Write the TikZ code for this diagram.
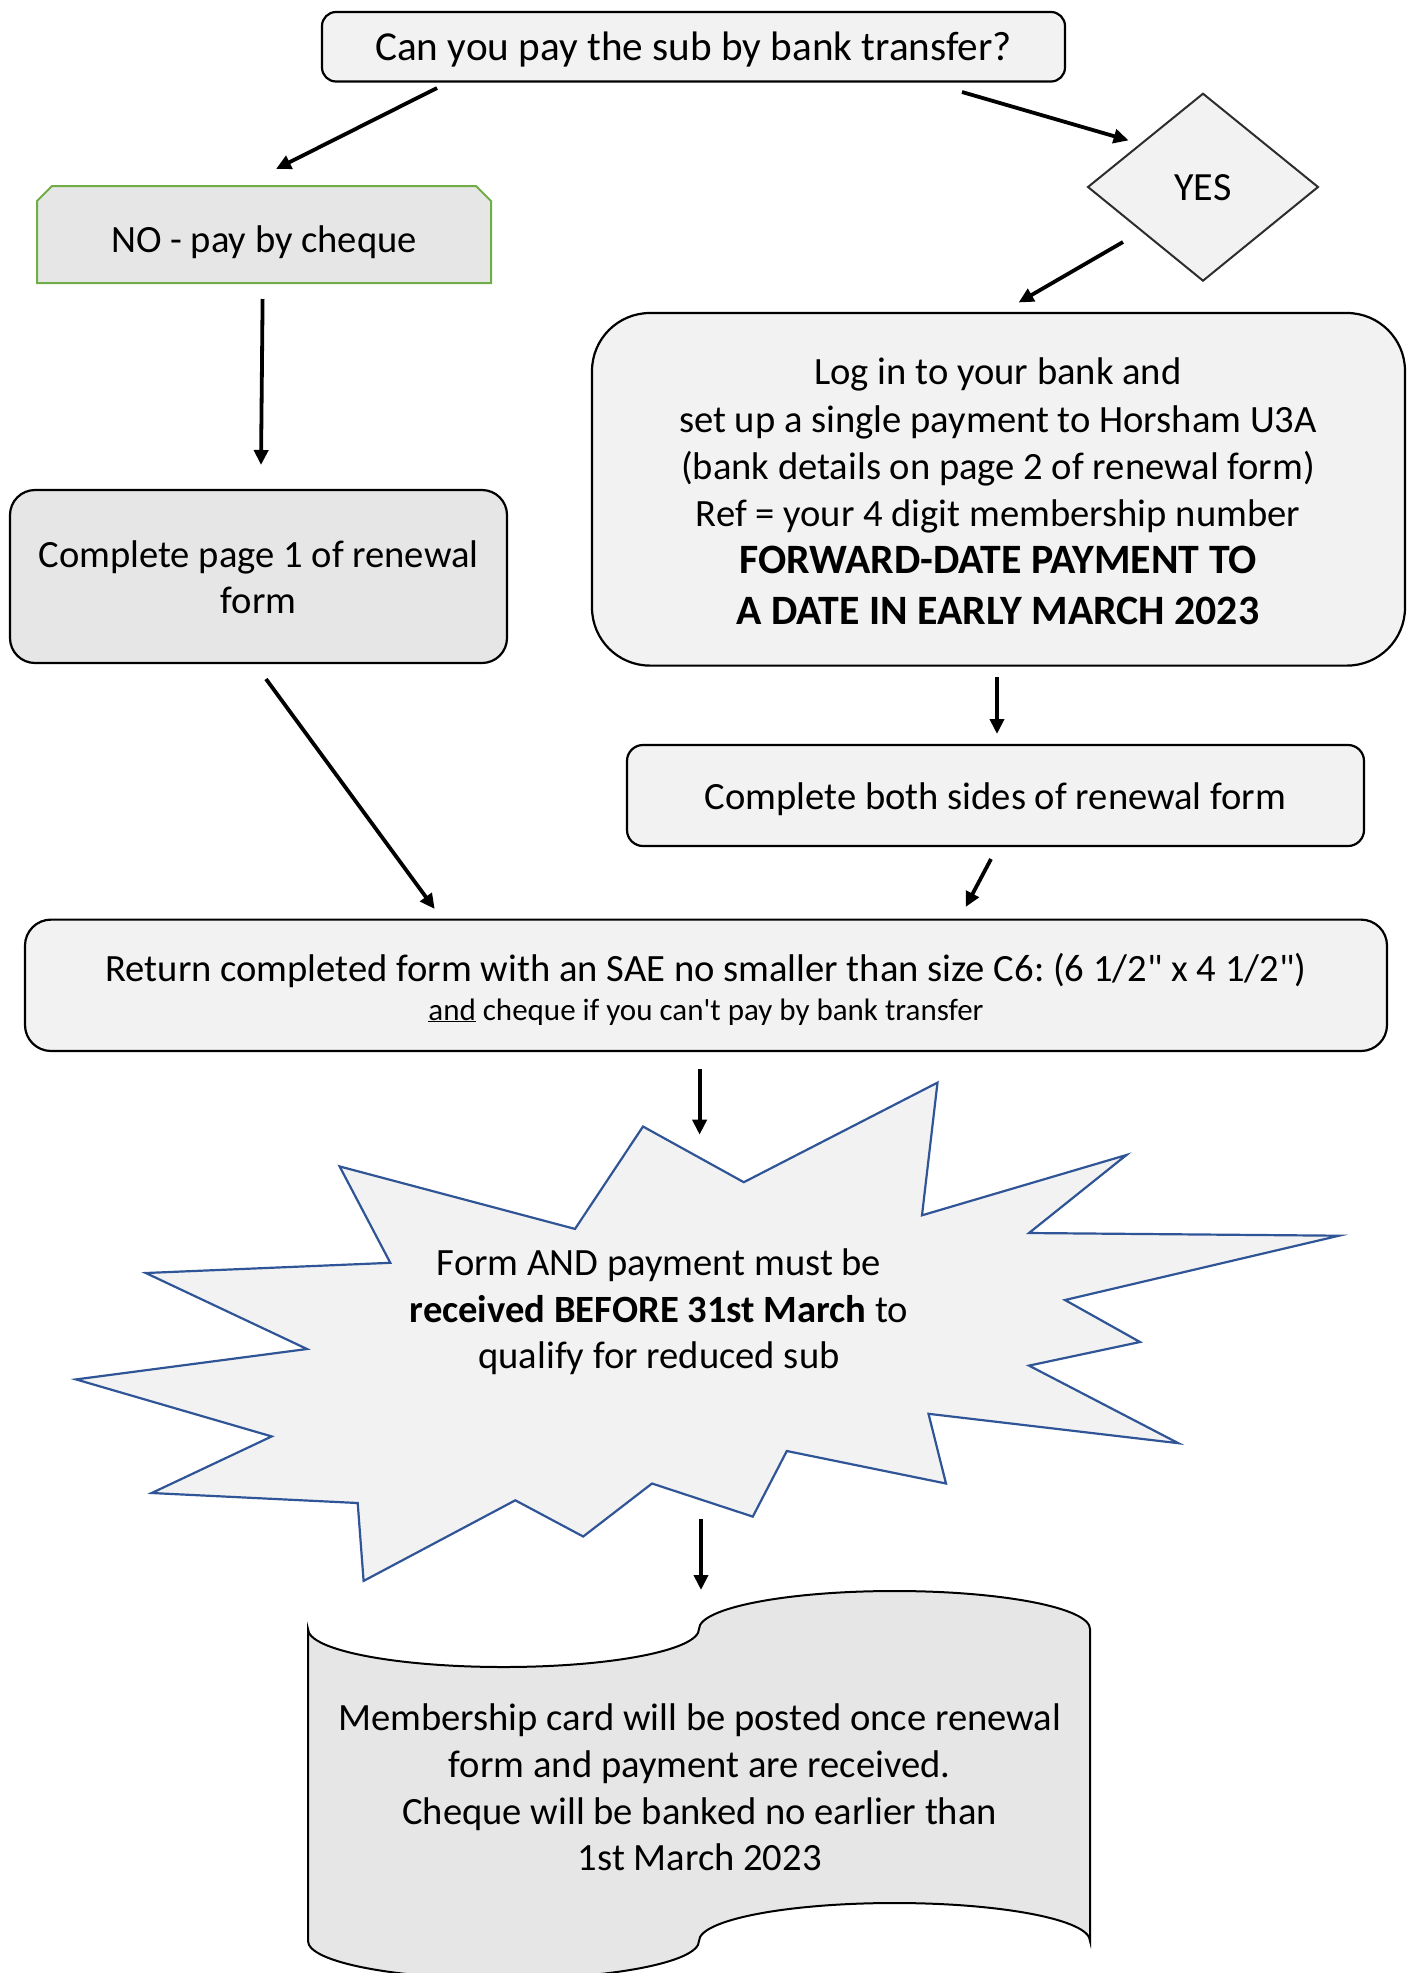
\documentclass[tikz,border=0pt]{standalone}
\usepackage{fontspec}
\setmainfont{Carlito}
\newfontfamily\rawf{Carlito}
\usetikzlibrary{arrows.meta}
\definecolor{lf}{RGB}{242,242,242}
\definecolor{df}{RGB}{230,230,230}
\definecolor{grn}{RGB}{112,173,71}
\definecolor{blu}{RGB}{47,85,151}
\definecolor{dgr}{RGB}{45,45,45}
\newcommand{\sq}{{\rawf '}}
\newcommand{\dq}{{\rawf "}}
\frenchspacing
\tikzset{
  rbox/.style={draw=black, line width=2.2pt, fill=lf, inner sep=0pt, rounded corners=#1},
  arr/.style={line width=3.8pt, -{Triangle[length=15pt,width=14pt]}},
  txt/.style={anchor=base, inner sep=0pt, font=\fontsize{38.6pt}{47.5pt}\selectfont},
  boldtxt/.style={anchor=base, inner sep=0pt, font=\fontsize{41.8pt}{50pt}\selectfont\bfseries},
  bigtxt/.style={anchor=base, inner sep=0pt, font=\fontsize{41.2pt}{50pt}\selectfont},
  smalltxt/.style={anchor=base, inner sep=0pt, font=\fontsize{31pt}{37pt}\selectfont}
}
\begin{document}
\frenchspacing
\begin{tikzpicture}[x=1pt,y=-1pt]
\useasboundingbox (0,0) rectangle (1413,1973);

% top question
\node[rbox=14pt, minimum width=743pt, minimum height=69.5pt] (top) at (693.5,46.75) {};
\node[bigtxt] (topt) at (693.5,60.2) {Can you pay the sub by bank transfer?};

% NO box (snipped corners)
\node[inner sep=0pt, minimum width=454pt, minimum height=97pt] (no) at (264,234.5) {};
\draw[draw=grn, line width=2pt, fill=df] (37,283) -- (37,201) -- (52,186) -- (476,186) -- (491,201) -- (491,283) -- cycle;
\node[txt] (not) at (264,252.2) {NO - pay by cheque};

% YES diamond
\node[inner sep=0pt, minimum width=230pt, minimum height=187pt] (yes) at (1203,187) {};
\draw[draw=dgr, line width=2pt, fill=lf] (1088,187) -- (1203,93.7) -- (1318,187) -- (1203,280.7) -- cycle;
\node[txt, font=\fontsize{40pt}{48pt}\selectfont] (yest) at (1203,200.6) {YES};

% complete page 1
\node[rbox=25pt, fill=df, minimum width=497pt, minimum height=173pt] (cp1) at (258.5,576.5) {};
\node[txt] (cp1a) at (258.5,567.3) {Complete page 1 of renewal};
\node[txt] (cp1b) at (258.5,613.5) {form};

% bank box
\node[rbox=58pt, minimum width=813pt, minimum height=352.6pt] (bank) at (998.5,489.3) {};
\node[txt] (b1) at (998,384.6) {Log in to your bank and};
\node[txt] (b2) at (998,432) {set up a single payment to Horsham U3A};
\node[txt] (b3) at (998,479.7) {(bank details on page 2 of renewal form)};
\node[txt] (b4) at (998,526.3) {Ref = your 4 digit membership number};
\node[boldtxt] (b5) at (998,573.4) {FORWARD-DATE PAYMENT TO};
\node[boldtxt] (b6) at (998,624) {A DATE IN EARLY MARCH 2023};

% complete both sides
\node[rbox=16pt, minimum width=737pt, minimum height=101pt] (both) at (995.5,795.5) {};
\node[txt] (botht) at (995.5,809.5) {Complete both sides of renewal form};

% return box
\node[rbox=26pt, minimum width=1362pt, minimum height=131.4pt] (ret) at (706,985.3) {};
\node[txt] (r1) at (706,981.5) {Return completed form with an SAE no smaller than size C6: (6 1/2\dq{} x 4 1/2\dq)};
\node[smalltxt] (r2) at (706,1020) {\underline{and} cheque if you can\sq{}t pay by bank transfer};

% starburst
\draw[draw=blu, line width=2.2pt, fill=lf]
  (339.6,1166.4) -- (575,1228.9) -- (643,1126.5) -- (743.8,1182.2) -- (937.5,1082.6)
  -- (922,1215.3) -- (1126.4,1155) -- (1029,1233) -- (1339,1235.7) -- (1065,1300)
  -- (1140,1342) -- (1029,1365.6) -- (1178.4,1443.2) -- (928.5,1413.8) -- (946,1483.5)
  -- (786.8,1451) -- (752.8,1516.6) -- (652,1483.5) -- (583.2,1536.5) -- (515.3,1500.3)
  -- (363.6,1580.9) -- (357.7,1503) -- (151.7,1493) -- (271.7,1436.4) -- (76,1379.4)
  -- (307,1349) -- (145.8,1273) -- (390.3,1262.8) -- cycle;
\node[inner sep=0pt, minimum width=500pt, minimum height=200pt] (star) at (659,1320) {};
\node[txt] (s1) at (659,1275.5) {Form AND payment must be};
\node[txt] (s2) at (659,1322) {\textbf{received BEFORE 31st March} to};
\node[txt] (s3) at (659,1368) {qualify for reduced sub};

% scroll (punched tape)
\draw[draw=black, line width=2pt, fill=df]
  (308,1629) .. controls (308,1650) and (395.5,1667) .. (503.5,1667)
  .. controls (611.5,1667) and (699,1650) .. (699,1629)
  .. controls (699,1608) and (786.5,1591) .. (894.5,1591)
  .. controls (1002.5,1591) and (1090,1608) .. (1090,1629)
  -- (1090,1941)
  .. controls (1090,1920) and (1002.5,1903) .. (894.5,1903)
  .. controls (786.5,1903) and (699,1920) .. (699,1941)
  .. controls (699,1962) and (611.5,1979) .. (503.5,1979)
  .. controls (395.5,1979) and (308,1962) .. (308,1941)
  -- cycle;
\node[inner sep=0pt, minimum width=782pt, minimum height=312pt] (scroll) at (699,1785) {};
\node[txt] (m1) at (699.7,1730) {Membership card will be posted once renewal};
\node[txt] (m2) at (699.7,1777.5) {form and payment are received.};
\node[txt] (m3) at (699.7,1824) {Cheque will be banked no earlier than};
\node[txt] (m4) at (699.7,1870.5) {1st March 2023};

% connectors (free-floating, as in the reference)
\coordinate (a1s) at (437,88);     \coordinate (a1e) at (276,169);
\coordinate (a2s) at (962,92);     \coordinate (a2e) at (1128.6,140.4);
\coordinate (a3s) at (262.6,299);  \coordinate (a3e) at (261,465);
\coordinate (a4s) at (1123,242);   \coordinate (a4e) at (1018.6,302.5);
\coordinate (a5s) at (997,677);    \coordinate (a5e) at (997,734);
\coordinate (a6s) at (266,679);    \coordinate (a6e) at (434.7,909);
\coordinate (a7s) at (991,859);    \coordinate (a7e) at (965.6,907);
\coordinate (a8s) at (699.6,1069); \coordinate (a8e) at (699.6,1134.7);
\coordinate (a9s) at (701,1518.8); \coordinate (a9e) at (701,1590);
\draw[arr] (a1s) -- (a1e);
\draw[arr] (a2s) -- (a2e);
\draw[arr] (a3s) -- (a3e);
\draw[arr] (a4s) -- (a4e);
\draw[arr] (a5s) -- (a5e);
\draw[arr] (a6s) -- (a6e);
\draw[arr] (a7s) -- (a7e);
\draw[arr] (a8s) -- (a8e);
\draw[arr] (a9s) -- (a9e);
\end{tikzpicture}
\end{document}
